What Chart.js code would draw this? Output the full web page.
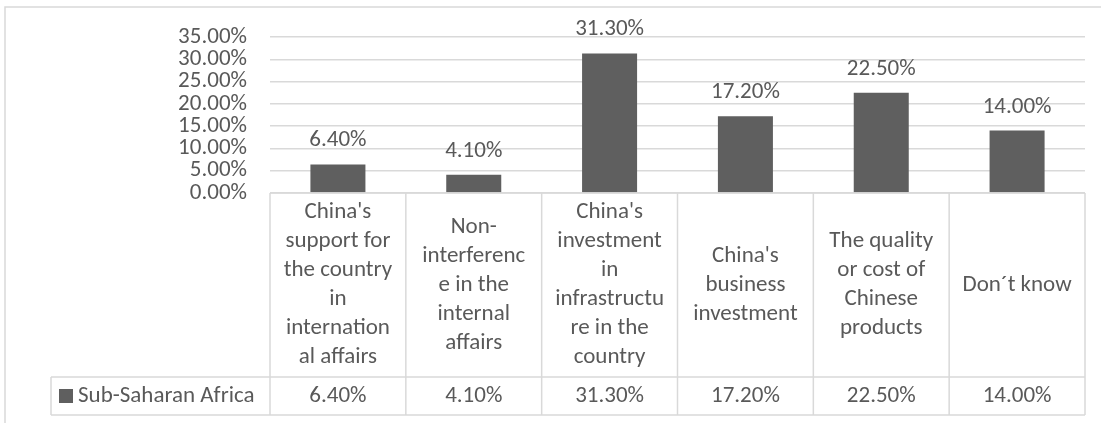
<!DOCTYPE html>
<html>
<head>
<meta charset="utf-8">
<script src="https://cdn.jsdelivr.net/npm/chart.js@4/dist/chart.umd.min.js"></script>
<style>
  html, body { margin: 0; padding: 0; background: #fff; }
  canvas { display: block; }
</style>
</head>
<body>
<canvas id="myChart" width="1101" height="423"></canvas>
<script>
// categories, already broken into the lines shown in the table header
const categories = [
  ["China's", "support for", "the country", "in", "internation", "al affairs"],
  ["Non-", "interferenc", "e in the", "internal", "affairs"],
  ["China's", "investment", "in", "infrastructu", "re in the", "country"],
  ["China's", "business", "investment"],
  ["The quality", "or cost of", "Chinese", "products"],
  ["Don\u00b4t know"]
];
const seriesName = "Sub-Saharan Africa";
const seriesValues = [6.4, 4.1, 31.3, 17.2, 22.5, 14.0];
const yMax = 35;
const yStep = 5;

const FONT = "Carlito, Calibri, Lato, sans-serif";
const FONT_SIZE = 23;
const TEXT = "#595959";
const BAR = "#5f5f5f";
const LINE = "#d9d9d9";

function pct(v) {
  return v.toFixed(2) + "%";
}

// outer chart frame
const framePlugin = {
  id: "frame",
  beforeDraw(chart) {
    const ctx = chart.ctx;
    ctx.save();
    ctx.strokeStyle = LINE;
    ctx.lineWidth = 1.5;
    ctx.beginPath();
    ctx.moveTo(5, chart.height);
    ctx.lineTo(5, 7);
    ctx.lineTo(chart.width, 7);
    ctx.stroke();
    ctx.restore();
  }
};

// value labels above the bars
const barLabels = {
  id: "barLabels",
  afterDatasetsDraw(chart) {
    const ctx = chart.ctx;
    const meta = chart.getDatasetMeta(0);
    ctx.save();
    ctx.font = FONT_SIZE + "px " + FONT;
    ctx.fillStyle = TEXT;
    ctx.textAlign = "center";
    ctx.textBaseline = "alphabetic";
    meta.data.forEach((bar, i) => {
      ctx.fillText(pct(seriesValues[i]), bar.x, bar.y - 18);
    });
    ctx.restore();
  }
};

// data table under the plot: category row + value row with legend key
const dataTable = {
  id: "dataTable",
  afterDraw(chart) {
    const ctx = chart.ctx;
    const area = chart.chartArea;
    const xs = chart.scales.x;
    const n = categories.length;
    const colW = (area.right - area.left) / n;
    const top = area.bottom;
    const headBottom = top + 184;
    const rowBottom = headBottom + 38;
    const keyLeft = 51;

    ctx.save();
    ctx.strokeStyle = LINE;
    ctx.lineWidth = 1.5;
    ctx.beginPath();
    ctx.moveTo(area.left, top);
    ctx.lineTo(area.right, top);
    ctx.moveTo(keyLeft, headBottom);
    ctx.lineTo(area.right, headBottom);
    ctx.moveTo(keyLeft, rowBottom);
    ctx.lineTo(area.right, rowBottom);
    ctx.moveTo(keyLeft, headBottom);
    ctx.lineTo(keyLeft, rowBottom);
    for (let i = 0; i <= n; i++) {
      const x = area.left + i * colW;
      ctx.moveTo(x, top);
      ctx.lineTo(x, rowBottom);
    }
    ctx.stroke();

    ctx.font = FONT_SIZE + "px " + FONT;
    ctx.fillStyle = TEXT;
    ctx.textAlign = "center";
    ctx.textBaseline = "middle";
    const lineH = 29;
    const midHead = (top + headBottom) / 2;
    const midRow = (headBottom + rowBottom) / 2;
    categories.forEach((lines, i) => {
      const cx = xs.getPixelForValue(i);
      const y0 = midHead - (lines.length - 1) * lineH / 2;
      lines.forEach((s, j) => ctx.fillText(s, cx, y0 + j * lineH));
      ctx.fillText(pct(seriesValues[i]), cx, midRow);
    });

    // legend key
    ctx.fillStyle = BAR;
    ctx.fillRect(keyLeft + 8, midRow - 7, 14, 14);
    ctx.fillStyle = TEXT;
    ctx.textAlign = "left";
    ctx.fillText(seriesName, keyLeft + 27, midRow);
    ctx.restore();
  }
};

const ctx = document.getElementById("myChart").getContext("2d");
new Chart(ctx, {
  type: "bar",
  data: {
    labels: categories.map(c => c.join(" ")),
    datasets: [{
      label: seriesName,
      data: seriesValues,
      backgroundColor: BAR,
      borderWidth: 0,
      categoryPercentage: 1,
      barPercentage: 0.405
    }]
  },
  options: {
    responsive: false,
    animation: false,
    layout: { padding: { top: 37, bottom: 230, left: 0, right: 16 } },
    plugins: {
      legend: { display: false },
      tooltip: { enabled: false }
    },
    scales: {
      x: { display: false },
      y: {
        min: 0,
        max: yMax,
        border: { display: false },
        grid: { color: LINE, lineWidth: 1.5, drawTicks: false },
        ticks: {
          stepSize: yStep,
          autoSkip: false,
          padding: 23,
          color: TEXT,
          font: { family: FONT, size: FONT_SIZE },
          callback: v => pct(v)
        },
        afterFit(scale) { scale.width = 270; }
      }
    }
  },
  plugins: [framePlugin, barLabels, dataTable]
});
</script>
</body>
</html>
